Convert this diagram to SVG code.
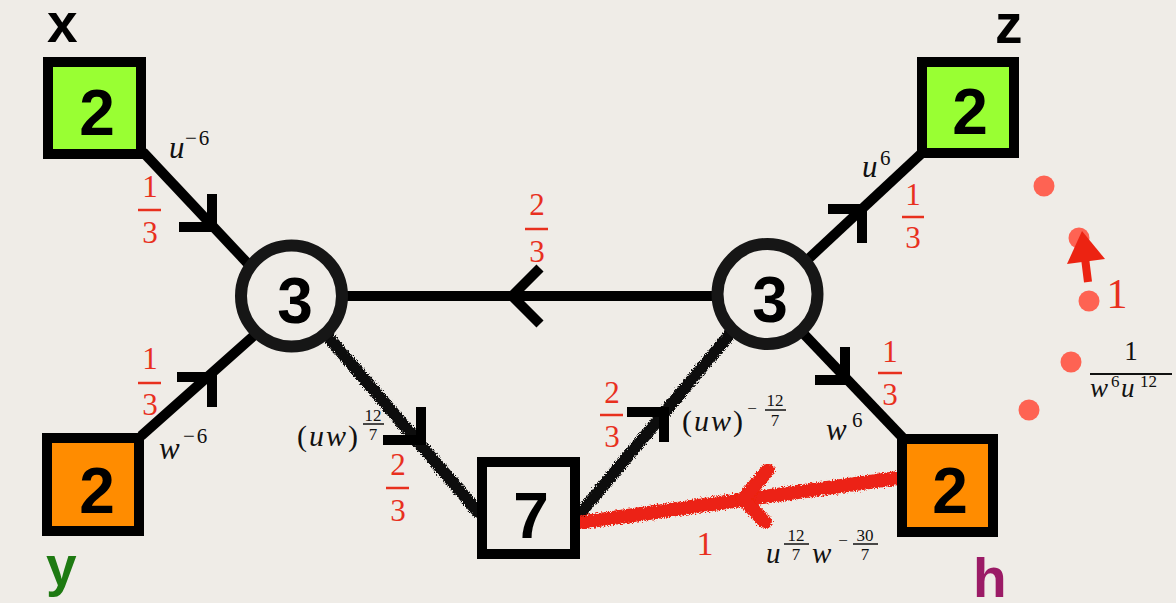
<svg xmlns="http://www.w3.org/2000/svg" width="1176" height="603" viewBox="0 0 1176 603">
<style>
.bg{fill:#EFECE7}
.edge{stroke:#000;stroke-width:10;fill:none}
.chev{stroke:#000;stroke-width:10;fill:none;stroke-linejoin:miter;stroke-linecap:butt}
.rough{stroke:#111;stroke-width:12;fill:none;stroke-linecap:round}
.roughcore{stroke:#111;stroke-width:8;fill:none;stroke-linecap:round}
.redline{stroke:#EC2312;stroke-width:14;fill:none;stroke-linecap:round}
.redcore{stroke:#EC2312;stroke-width:10;fill:none;stroke-linecap:round;stroke-linejoin:round}
.box{stroke:#000;stroke-width:10}
.ring{stroke:#161616;stroke-width:12;fill:#EFECE7}
.num{font-family:"Liberation Sans",Arial,sans-serif;font-weight:bold;font-size:64px;fill:#000;text-anchor:middle}
.lab{font-family:"Liberation Sans",Arial,sans-serif;font-weight:bold;font-size:55px}
.rf{font-family:"Liberation Serif","Times New Roman",serif;font-size:31px;fill:#E8301E;text-anchor:middle}
.rbar{stroke:#E8301E;stroke-width:2.5}
.m{font-family:"Liberation Serif","Times New Roman",serif;fill:#111}
.mi{font-style:italic}
.sup{font-family:"Liberation Serif","Times New Roman",serif;fill:#111}
.sm{font-family:"Liberation Serif","Times New Roman",serif;font-size:17px;fill:#111;text-anchor:middle}
.kbar{stroke:#111;stroke-width:1.5}
.dot{fill:#FF5443;opacity:0.9}
</style>
<defs>
<filter id="rough" x="-10%" y="-10%" width="120%" height="120%">
<feTurbulence type="fractalNoise" baseFrequency="0.9" numOctaves="2" seed="3" result="n"/>
<feDisplacementMap in="SourceGraphic" in2="n" scale="6" xChannelSelector="R" yChannelSelector="G"/>
</filter>
</defs>
<rect class="bg" x="0" y="0" width="1176" height="603"/>

<g id="connectors">
  <path class="edge" d="M143,152 L252,268"/>
  <path class="chev" d="M179,227 L212,227 L212,194"/>
  <path class="edge" d="M141,436 L258,332"/>
  <path class="chev" d="M177,377 L212,377 L212,407"/>
  <path class="edge" d="M345,296 L714,296"/>
  <path class="chev" d="M540,268 L512,296 L540,324"/>
  <path class="edge" d="M805,262 L922,153"/>
  <path class="chev" d="M828,209 L862,209 L862,243"/>
  <path class="edge" d="M800,330 L903,438"/>
  <path class="chev" d="M815,380 L845,380 L845,347"/>
  <path class="roughcore" d="M325,333 L478,512"/>
  <path class="roughcore" d="M578,516 L730,334"/>
  <g filter="url(#rough)">
    <path class="rough" d="M325,333 L478,512"/>
    <path class="rough" d="M578,516 L730,334"/>
  </g>
  <path class="chev" d="M383,440 L421,440 L421,407"/>
  <path class="chev" d="M627,412 L664,412 L664,442"/>
  <path class="redcore" d="M903,477 L579,523"/>
  <path class="redcore" d="M767,471 L744,499 L764,521"/>
  <g filter="url(#rough)">
    <path class="redline" d="M905,477 L577,523"/>
    <path class="redline" d="M768,470 L743,499 L765,522"/>
  </g>
</g>

<g id="node-x">
  <rect class="box" x="48" y="62" width="93" height="92" fill="#99FF33"/>
  <text class="num" x="97" y="135">2</text>
  <text class="lab" x="47" y="42" fill="#000">x</text>
</g>
<g id="node-y">
  <rect class="box" x="47" y="438" width="92" height="93" fill="#FF8C00"/>
  <text class="num" x="97" y="513">2</text>
  <text class="lab" x="46" y="585" fill="#1E7A12">y</text>
</g>
<g id="node-z">
  <rect class="box" x="922" y="62" width="92" height="91" fill="#99FF33"/>
  <text class="num" x="970" y="134">2</text>
  <text class="lab" x="995" y="43" fill="#000">z</text>
</g>
<g id="node-h">
  <rect class="box" x="902" y="439" width="91" height="93" fill="#FF8C00"/>
  <text class="num" x="950" y="513">2</text>
  <text class="lab" x="973" y="597" fill="#9B1B66">h</text>
</g>
<g id="node-L">
  <circle class="ring" cx="291.5" cy="296" r="50.5"/>
  <text class="num" x="295" y="323">3</text>
</g>
<g id="node-R">
  <circle class="ring" cx="767.5" cy="294" r="50"/>
  <text class="num" x="770" y="322">3</text>
</g>
<g id="node-7">
  <rect class="box" x="482" y="462" width="93" height="92" fill="#EFECE7"/>
  <text class="num" x="531" y="538">7</text>
</g>

<g id="labels">
  <text class="rf" x="150" y="197">1</text><line class="rbar" x1="138" y1="210" x2="161" y2="210"/><text class="rf" x="150" y="243">3</text>
  <text class="rf" x="150" y="369">1</text><line class="rbar" x1="138" y1="383" x2="161" y2="383"/><text class="rf" x="150" y="415">3</text>
  <text class="rf" x="537" y="215">2</text><line class="rbar" x1="525" y1="229" x2="548" y2="229"/><text class="rf" x="537" y="262">3</text>
  <text class="rf" x="913" y="205">1</text><line class="rbar" x1="902" y1="217" x2="924" y2="217"/><text class="rf" x="913" y="248">3</text>
  <text class="rf" x="890" y="362">1</text><line class="rbar" x1="878" y1="373" x2="902" y2="373"/><text class="rf" x="890" y="405">3</text>
  <text class="rf" x="398" y="475">2</text><line class="rbar" x1="386" y1="488" x2="409" y2="488"/><text class="rf" x="398" y="521">3</text>
  <text class="rf" x="612" y="403">2</text><line class="rbar" x1="600" y1="415" x2="623" y2="415"/><text class="rf" x="612" y="447">3</text>
  <text class="rf" x="705" y="555" style="font-size:34px">1</text>
  <text class="rf" x="1117" y="308" style="font-size:42px">1</text>

  <text class="m mi" x="169" y="158" style="font-size:31px">u</text><text class="sup" x="185" y="145" style="font-size:21px;letter-spacing:2px">−6</text>
  <text class="m mi" x="159" y="459" style="font-size:31px">w</text><text class="sup" x="183" y="443" style="font-size:21px;letter-spacing:2px">−6</text>
  <text class="m mi" x="862" y="177" style="font-size:31px">u</text><text class="sup" x="880" y="165" style="font-size:21px">6</text>
  <text class="m mi" x="826" y="440" style="font-size:31px">w</text><text class="sup" x="852" y="427" style="font-size:21px">6</text>

  <text class="m" x="297" y="446" style="font-size:30px;letter-spacing:2px">(<tspan class="mi">uw</tspan>)</text>
  <text class="sm" x="373" y="421">12</text><line class="kbar" x1="363" y1="424" x2="384" y2="424"/><text class="sm" x="373" y="440">7</text>

  <text class="m" x="682" y="431" style="font-size:30px;letter-spacing:2px">(<tspan class="mi">uw</tspan>)</text>
  <text class="sm" x="752" y="414">−</text>
  <text class="sm" x="775" y="406">12</text><line class="kbar" x1="765" y1="410" x2="786" y2="410"/><text class="sm" x="775" y="426">7</text>

  <text class="m mi" x="766" y="563" style="font-size:29px">u</text>
  <text class="sm" x="796" y="541">12</text><line class="kbar" x1="784" y1="544" x2="809" y2="544"/><text class="sm" x="796" y="560">7</text>
  <text class="m mi" x="812" y="563" style="font-size:29px">w</text>
  <text class="sm" x="843" y="546">−</text>
  <text class="sm" x="865" y="541">30</text><line class="kbar" x1="853" y1="544" x2="878" y2="544"/><text class="sm" x="865" y="560">7</text>

  <text class="m" x="1131" y="360" style="font-size:27px" text-anchor="middle">1</text>
  <line x1="1090" y1="374" x2="1172" y2="374" stroke="#111" stroke-width="2"/>
  <text class="m mi" x="1090" y="397" style="font-size:27px">w</text><text class="sup" x="1111" y="387" style="font-size:17px">6</text>
  <text class="m mi" x="1121" y="397" style="font-size:27px">u</text><text class="sup" x="1140" y="387" style="font-size:17px">12</text>
</g>

<g id="dots">
  <circle class="dot" cx="1044" cy="186" r="10.5"/>
  <circle class="dot" cx="1079" cy="238" r="10.5"/>
  <circle class="dot" cx="1089" cy="301" r="10.5"/>
  <circle class="dot" cx="1071" cy="362" r="10.5"/>
  <circle class="dot" cx="1029" cy="410" r="10.5"/>
  <path d="M1088,282 L1085,258" stroke="#EC2312" stroke-width="8" fill="none"/>
  <polygon points="1082,231 1067,264 1105,259" fill="#EC2312"/>
</g>
</svg>
